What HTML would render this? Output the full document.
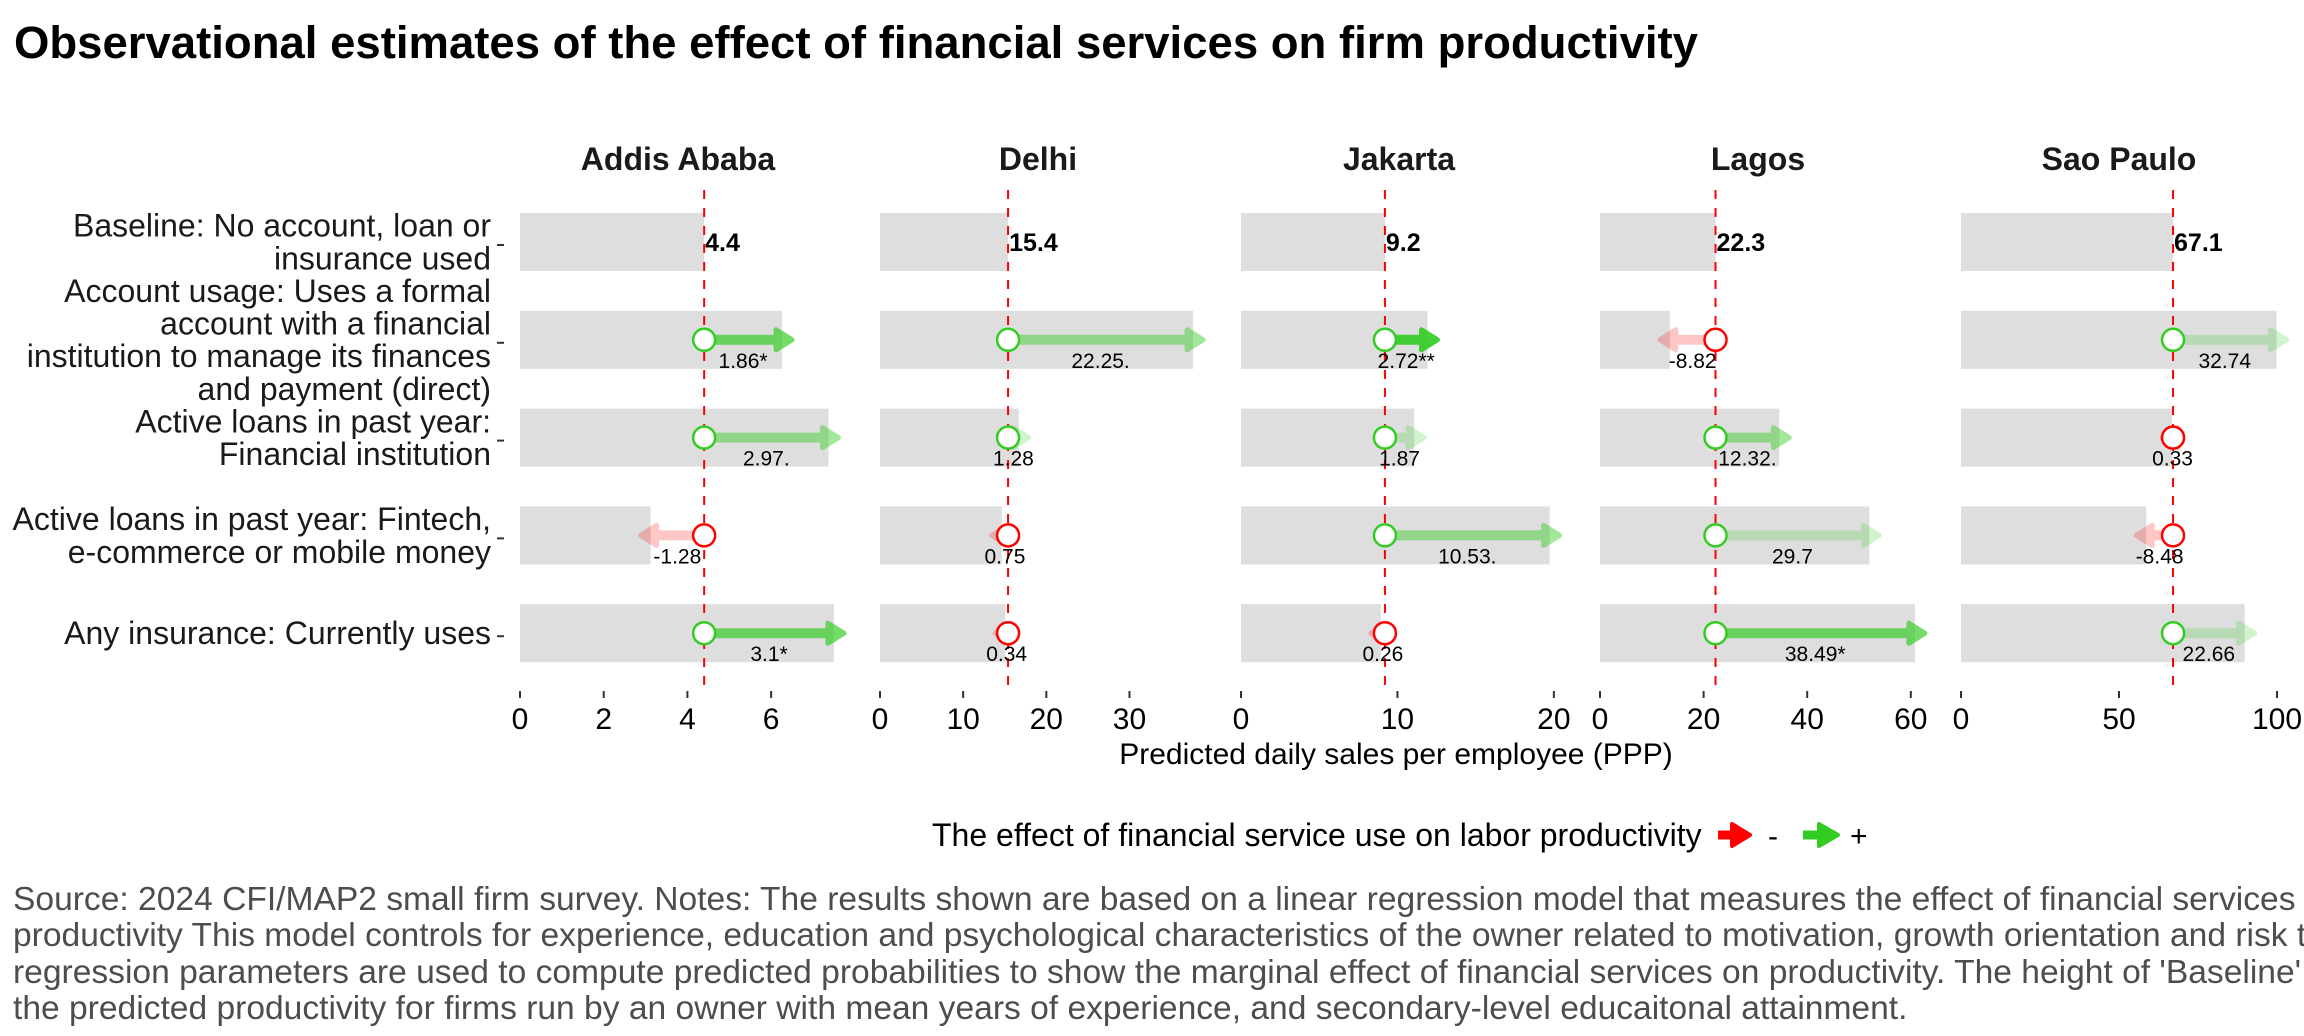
<!DOCTYPE html>
<html><head><meta charset="utf-8">
<style>
html,body{margin:0;padding:0;background:#fff;overflow:hidden;}
svg{display:block;font-family:"Liberation Sans",Arial,sans-serif;}
</style></head>
<body>
<svg id="chart" width="2304" height="1036" viewBox="0 0 2304 1036">
<text x="14" y="58" font-size="45.5" font-weight="bold" fill="#000">Observational estimates of the effect of financial services on firm productivity</text>
<g id="ylabels" font-size="32" fill="#1a1a1a" text-anchor="end"></g>
<g id="panels"></g>
<text x="1396" y="764" font-size="30" text-anchor="middle" fill="#000">Predicted daily sales per employee (PPP)</text>
<g>
<text x="932" y="846" font-size="32" fill="#000">The effect of financial service use on labor productivity</text>
<g>
<line x1="1718" y1="835" x2="1735" y2="835" stroke="#ff0000" stroke-width="9"/>
<polygon points="1732,824 1750,835 1732,846" fill="#ff0000" stroke="#ff0000" stroke-width="4" stroke-linejoin="round"/>
<text x="1768" y="846" font-size="30">-</text>
</g>
<g>
<line x1="1803" y1="835" x2="1822" y2="835" stroke="#33cc22" stroke-width="9"/>
<polygon points="1819,824 1838,835 1819,846" fill="#33cc22" stroke="#33cc22" stroke-width="4" stroke-linejoin="round"/>
<text x="1850" y="846" font-size="30">+</text>
</g>
</g>
<g font-size="33.6" fill="#4d4d4d">
<text x="13" y="910">Source: 2024 CFI/MAP2 small firm survey. Notes: The results shown are based on a linear regression model that measures the effect of financial services on firm labor</text>
<text x="13" y="946">productivity This model controls for experience, education and psychological characteristics of the owner related to motivation, growth orientation and risk tolerance. The</text>
<text x="13" y="983">regression parameters are used to compute predicted probabilities to show the marginal effect of financial services on productivity. The height of 'Baseline' represents</text>
<text x="13" y="1019">the predicted productivity for firms run by an owner with mean years of experience, and secondary-level educaitonal attainment.</text>
</g>
</svg>
<script>
const cities = ["Addis Ababa","Delhi","Jakarta","Lagos","Sao Paulo"];
const baselines = [4.4, 15.4, 9.2, 22.3, 67.1];
const effAddis = [1.86, 2.97, -1.28, 3.1];
const effDelhi = [22.25, 1.28, -0.75, -0.34];
const effJakarta = [2.72, 1.87, 10.53, -0.26];
const effLagos = [-8.82, 12.32, 29.7, 38.49];
const effSao = [32.74, -0.33, -8.48, 22.66];
const labAddis = ["1.86*","2.97.","-1.28","3.1*"];
const labDelhi = ["22.25.","1.28","0.75","0.34"];
const labJakarta = ["2.72**","1.87","10.53.","0.26"];
const labLagos = ["-8.82","12.32.","29.7","38.49*"];
const labSao = ["32.74","0.33","-8.48","22.66"];
const ticksAddis = [0,2,4,6];
const ticksDelhi = [0,10,20,30];
const ticksJakarta = [0,10,20];
const ticksLagos = [0,20,40,60];
const ticksSao = [0,50,100];
const rowLabels = [
 ["Baseline: No account, loan or","insurance used"],
 ["Account usage: Uses a formal","account with a financial","institution to manage its finances","and payment (direct)"],
 ["Active loans in past year:","Financial institution"],
 ["Active loans in past year: Fintech,","e-commerce or mobile money"],
 ["Any insurance: Currently uses"]
];

const effects = [effAddis,effDelhi,effJakarta,effLagos,effSao];
const labels = [labAddis,labDelhi,labJakarta,labLagos,labSao];
const ticks = [ticksAddis,ticksDelhi,ticksJakarta,ticksLagos,ticksSao];
const panelX0 = [520,880,1241,1600,1961];
const panelMax = [7.55,38,20.2,61,100];
const panelW = 316;
const NS = "http://www.w3.org/2000/svg";
function mk(tag, attrs, parent){const e=document.createElementNS(NS,tag);for(const k in attrs)e.setAttribute(k,attrs[k]);parent.appendChild(e);return e;}
function yRow(i){return 242 + i*97.8;}
const barH = 58;
function alphaFor(lab){ if(lab.indexOf("**")>=0) return 0.9; if(lab.indexOf("*")>=0) return 0.68; if(lab.endsWith(".")) return 0.45; return 0.22; }

const yl = document.getElementById("ylabels");
rowLabels.forEach((lines,i)=>{
  const cy = yRow(i);
  const lh = 32.7;
  const g = mk("g",{},yl);
  
  
  lines.forEach((ln,j)=>{
    const t = mk("text",{x:491,y:cy + (j-(lines.length-1)/2)*lh + 11},g);
    t.textContent = ln;
  });
  const tk = mk("line",{x1:497,x2:504,y1:cy+3,y2:cy+3,stroke:"#333",'stroke-width':2},yl);
  
  
});

const panels = document.getElementById("panels");
cities.forEach((city,p)=>{
  const x0 = panelX0[p];
  const sc = panelW/panelMax[p];
  const X = v => x0 + v*sc;
  const g = mk("g",{},panels);
  
  
  const tt = mk("text",{x:x0+panelW/2,y:170,'font-size':32,'font-weight':'bold','text-anchor':'middle',fill:'#1a1a1a'},g);
  tt.textContent = city;
  
  
  const b = baselines[p];
  const bb = mk("rect",{x:X(0),y:yRow(0)-barH/2,width:X(b)-X(0),height:barH,fill:"#dedede"},g);
  
  
  effects[p].forEach((e,i)=>{
    const r = mk("rect",{x:X(0),y:yRow(i+1)-barH/2,width:X(b+e)-X(0),height:barH,fill:"#dedede"},g);
    
    
  });
  const dl = mk("line",{x1:X(b),x2:X(b),y1:190,y2:692,stroke:"#ff0000",'stroke-width':2,'stroke-dasharray':'9,9'},g);
  
  
  const bl = mk("text",{x:X(b)+1,y:yRow(0)+9,'font-size':25,'font-weight':'bold',fill:'#000'},g);
  bl.textContent = String(b);
  
  
  effects[p].forEach((e,i)=>{
    const cy = yRow(i+1);
    const pos = e>=0;
    const col = pos ? "#33cc22" : "#ff0000";
    const a = alphaFor(labels[p][i]);
    const xs = X(b), xe = X(b+e);
    const dir = pos?1:-1;
    const ag = mk("g",{opacity:a},g);
    
    
    const headL = 16;
    if (Math.abs(xe-xs) > 2) {
      mk("line",{x1:xs,x2:xe-dir*headL*0.5,y1:cy,y2:cy,stroke:col,'stroke-width':10},ag);
    }
    const tip = xe + dir*10;
    mk("polygon",{points:`${tip-dir*headL},${cy-10} ${tip},${cy} ${tip-dir*headL},${cy+10}`,fill:col,stroke:col,'stroke-width':5,'stroke-linejoin':'round'},ag);
    const c = mk("circle",{cx:xs,cy:cy,r:11,fill:"#fff",stroke:col,'stroke-width':2.5},g);
    
    
    const lt = mk("text",{x:(xs+xe)/2,y:cy+28,'font-size':21,'text-anchor':'middle',fill:'#000'},g);
    lt.textContent = labels[p][i];
    
    
  });
  ticks[p].forEach(v=>{
    const tl = mk("line",{x1:X(v),x2:X(v),y1:691,y2:698,stroke:"#333",'stroke-width':2},g);
    
    
    const tx = mk("text",{x:X(v),y:729,'font-size':30,'text-anchor':'middle',fill:'#000'},g);
    tx.textContent = String(v);
    
    
  });
});
</script>
</body></html>
